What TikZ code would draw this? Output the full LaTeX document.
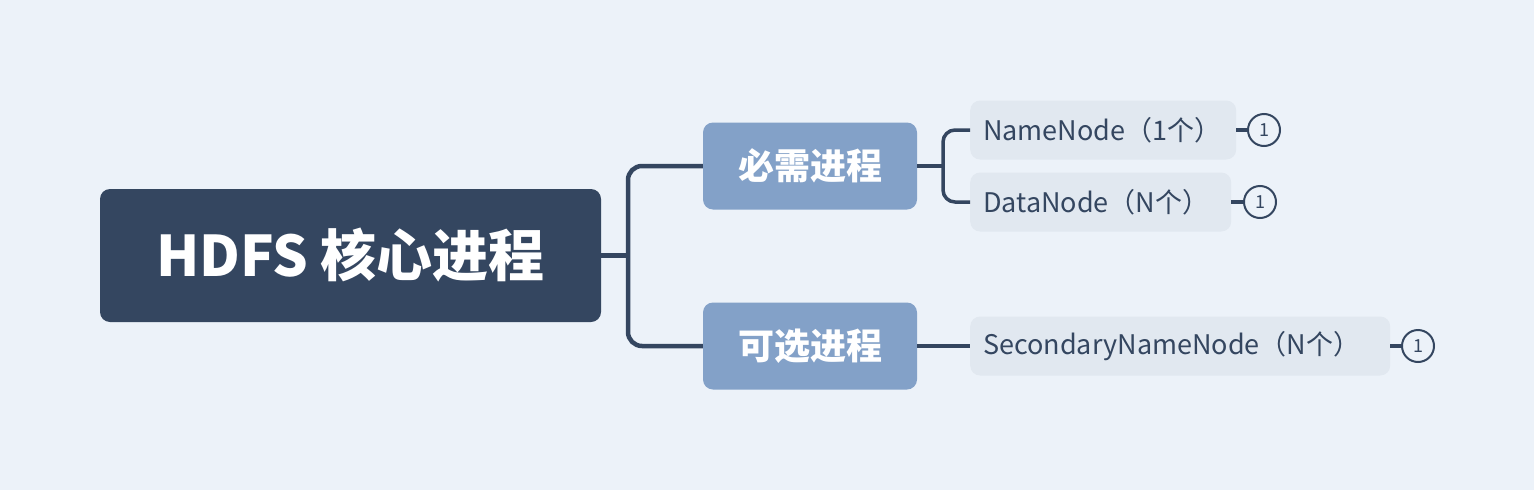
\documentclass[tikz,border=0pt]{standalone}
\usepackage{fontspec}
\setmainfont{Noto Sans CJK SC}
\usepackage{tikz}
\usetikzlibrary{positioning}

\definecolor{bgblue}{HTML}{ECF2F9}
\definecolor{rootblue}{HTML}{344660}
\definecolor{subblue}{HTML}{83A1C8}
\definecolor{leafgray}{HTML}{E1E8F0}

\tikzset{
  rootbox/.style={fill=rootblue, text=white, rounded corners=10pt, minimum width=501pt,
    minimum height=133pt, font=\fontsize{56}{64}\selectfont\bfseries},
  subbox/.style={fill=subblue, text=white, rounded corners=10pt, minimum width=214pt,
    minimum height=87pt, font=\fontsize{36}{42}\selectfont\bfseries},
  leafbox/.style={fill=leafgray, text=rootblue, rounded corners=10pt, anchor=west,
    inner xsep=13pt, minimum height=59pt, align=left, font=\fontsize{27}{32}\selectfont},
  marker/.style={circle, draw=rootblue, line width=2pt, fill=bgblue, text=rootblue,
    minimum size=32pt, inner sep=0pt, font=\fontsize{18}{20}\selectfont},
  trunk/.style={draw=rootblue, line width=4.5pt},
  twig/.style={draw=rootblue, line width=3.5pt}
}

\begin{document}
\begin{tikzpicture}[x=1pt, y=-1pt]
\fill [bgblue] (0,0) rectangle (1534,490);
\useasboundingbox (0,0) rectangle (1534,490);

\node [rootbox] (root) at (350.5,255.5) {HDFS 核心进程};
\node [subbox] (need) at (810,166) {必需进程};
\node [subbox] (opt) at (810,346) {可选进程};
\node [leafbox, text width=240pt] (nn) at (970,130) {NameNode（1个）};
\node [leafbox, text width=235pt] (dn) at (970,202) {DataNode（N个）};
\node [leafbox, text width=394pt] (snn) at (970,346) {SecondaryNameNode（N个）};
\node [marker] (m1) at (1264,130) {1};
\node [marker] (m2) at (1260,202) {1};
\node [marker] (m3) at (1418,346) {1};

\coordinate (j1) at (628,255.5);
\coordinate (j2) at (943,166);
\draw [trunk] (root.east) -- (j1);
\draw [trunk, rounded corners=14pt] (need.west) -| (j1) |- (opt.west);
\draw [twig] (need.east) -- (j2);
\draw [twig, rounded corners=12pt] (nn.west) -| (j2) |- (dn.west);
\draw [twig] (opt.east) -- (snn.west);
\draw [twig] (nn.east) -- (m1.west);
\draw [twig] (dn.east) -- (m2.west);
\draw [twig] (snn.east) -- (m3.west);
\end{tikzpicture}
\end{document}
